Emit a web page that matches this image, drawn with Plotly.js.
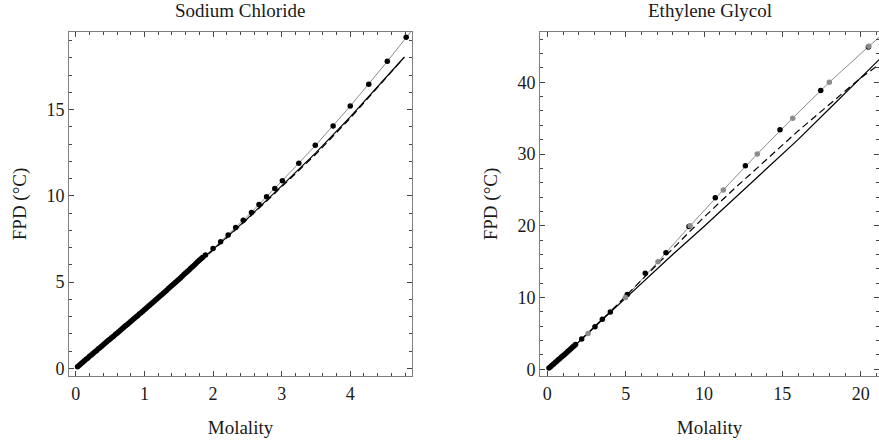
<!DOCTYPE html>
<html>
<head>
<meta charset="utf-8">
<script src="https://cdn.plot.ly/plotly-3.0.1.min.js"></script>
<style>html,body{margin:0;padding:0;background:#fff;}#chart{width:879px;height:447px;}</style>
</head>
<body>
<div id="chart"></div>
<script>
// ---------- Sodium Chloride ----------
const naclDotX = [0.025,0.050,0.075,0.100,0.125,0.150,0.175,0.200,0.225,0.250,0.275,0.300,0.325,0.350,0.375,0.400,
  0.425,0.450,0.475,0.500,0.525,0.550,0.575,0.600,0.625,0.650,0.675,0.700,0.725,0.750,0.775,0.800,
  0.825,0.850,0.875,0.900,0.925,0.950,0.975,1.000,1.025,1.050,1.075,1.100,1.125,1.150,1.175,1.200,
  1.225,1.250,1.275,1.300,1.325,1.350,1.375,1.400,1.425,1.450,1.475,1.500,1.525,1.550,1.575,1.600,
  1.625,1.650,1.675,1.700,1.725,1.750,1.775,1.800,1.825,1.850,
  1.89,2.00,2.11,2.22,2.33,2.44,2.56,2.67,2.78,2.90,3.01,3.25,3.49,3.75,4.00,4.27,4.54,4.815];
const naclDotY = [0.09,0.17,0.26,0.35,0.43,0.52,0.60,0.69,0.77,0.86,0.94,1.02,1.11,1.19,1.28,1.36,
  1.45,1.53,1.62,1.70,1.78,1.86,1.95,2.03,2.12,2.20,2.29,2.37,2.46,2.54,2.63,2.71,
  2.80,2.88,2.97,3.05,3.14,3.22,3.31,3.39,3.48,3.56,3.65,3.74,3.82,3.91,4.00,4.09,
  4.17,4.26,4.35,4.44,4.53,4.62,4.71,4.80,4.88,4.97,5.06,5.15,5.24,5.33,5.43,5.52,
  5.61,5.70,5.80,5.89,5.98,6.07,6.17,6.26,6.35,6.44,
  6.57,6.94,7.34,7.73,8.16,8.58,9.03,9.49,9.94,10.42,10.88,11.89,12.93,14.05,15.21,16.47,17.80,19.20];
const naclFitX = [0,0.5,1.0,1.5,2.0,2.5,3.0,3.5,4.0,4.5,4.88];
const naclFitY = [0,1.70,3.39,5.15,6.94,8.81,10.84,12.95,15.20,17.60,19.50];
const naclSolidX = [0,0.5,1.0,1.5,2.0,2.5,3.0,3.5,4.0,4.5,4.79];
const naclSolidY = [0,1.70,3.39,5.13,6.88,8.68,10.58,12.50,14.58,16.78,18.05];
const naclDashX = [0,0.5,1.0,1.5,2.0,2.5,3.0,3.5,4.0,4.5,4.78];
const naclDashY = [0,1.70,3.38,5.11,6.85,8.64,10.52,12.42,14.50,16.72,18.00];

// ---------- Ethylene Glycol ----------
const egBlackX = [0.10,0.20,0.30,0.40,0.50,0.60,0.70,0.80,0.90,1.00,1.10,1.20,1.30,1.40,1.50,1.60,1.70,1.80,
  2.19,3.04,3.51,4.02,5.10,6.25,7.57,9.04,10.72,12.64,14.85,17.45,20.49];
const egBlackY = [0.19,0.37,0.56,0.75,0.94,1.13,1.32,1.51,1.70,1.89,2.08,2.28,2.47,2.67,2.87,3.07,3.26,3.46,
  4.23,5.94,6.97,7.99,10.41,13.39,16.26,19.89,23.89,28.35,33.38,38.86,44.90];
const egGreyX = [2.60,4.98,7.06,9.11,11.23,13.40,15.66,18.00,20.52];
const egGreyY = [5,10,15,20,25,30,35,40,45];
const egFitX = [0,1.0,1.8,2.6,4.0,4.98,7.06,9.11,11.23,13.40,15.66,18.00,20.52,21.2];
const egFitY = [0,1.89,3.46,5.0,7.95,10,15,20,25,30,35,40,45,46.3];
const egSolidX = [0,2,4,6,8,10,12,14,16,18,20,21.2];
const egSolidY = [0,3.80,7.90,12.0,16.0,19.9,23.9,27.9,32.0,36.3,40.7,43.2];
const egDashX = [0,2,4,6,8,10,12,14,16,18,20,21.2];
const egDashY = [0,3.85,8.0,12.4,16.9,21.2,25.3,29.3,33.2,36.9,40.6,42.5];

const titles = ["Sodium Chloride", "Ethylene Glycol"];
const xTitle = "Molality";
const yTitle = "FPD (°C)";

const FONT = "'Liberation Serif', 'Times New Roman', serif";
const grey = "#8c8c8c";
const TXT = "#1a1a1a";

function line(x, y, xa, ya, color, width, dash) {
  return {x, y, xaxis: xa, yaxis: ya, type: "scatter", mode: "lines",
    line: {color, width, dash: dash || "solid"}, hoverinfo: "skip", showlegend: false};
}
function dots(x, y, xa, ya, color) {
  return {x, y, xaxis: xa, yaxis: ya, type: "scatter", mode: "markers",
    marker: {color, size: 5.5, line: {width: 0}}, hoverinfo: "skip", showlegend: false};
}

const data = [
  line(naclFitX, naclFitY, "x", "y", grey, 1),
  line(naclDashX, naclDashY, "x", "y", "#000", 1.2, "7px,4px"),
  line(naclSolidX, naclSolidY, "x", "y", "#000", 1.2),
  dots(naclDotX, naclDotY, "x", "y", "#000"),
  line(egFitX, egFitY, "x2", "y2", grey, 1),
  line(egDashX, egDashY, "x2", "y2", "#000", 1.2, "7px,4px"),
  line(egSolidX, egSolidY, "x2", "y2", "#000", 1.2),
  dots(egBlackX, egBlackY, "x2", "y2", "#000"),
  dots(egGreyX, egGreyY, "x2", "y2", grey)
];

function axis(extra) {
  return Object.assign({
    showgrid: false, zeroline: false, showline: true, linecolor: "#808080", linewidth: 1,
    mirror: "allticks", ticks: "inside", ticklen: 5, tickcolor: "#444", tickwidth: 1,
    tickfont: {family: FONT, size: 18, color: TXT},
    fixedrange: true
  }, extra);
}
const titleFont = {family: FONT, size: 19, color: TXT};

const W = 879, H = 447;
const yDom = [(H - 376) / H, (H - 32) / H];

const layout = {
  width: W, height: H,
  margin: {l: 0, r: 0, t: 0, b: 0},
  paper_bgcolor: "#fff", plot_bgcolor: "#fff",
  font: {family: FONT, color: TXT},
  showlegend: false,
  xaxis: axis({domain: [69 / W, 412 / W], anchor: "y", range: [-0.1, 4.9], dtick: 1, tick0: 0,
    ticklabelstandoff: 1,
    minor: {dtick: 0.2, tick0: 0, ticklen: 3, ticks: "inside", tickcolor: "#444"},
    title: {text: xTitle, font: titleFont, standoff: 18}}),
  yaxis: axis({domain: yDom, anchor: "x", range: [-0.45, 19.5], dtick: 5, tick0: 0,
    ticklabelstandoff: 0,
    minor: {dtick: 1, tick0: 0, ticklen: 3, ticks: "inside", tickcolor: "#444"},
    title: {text: yTitle, font: titleFont, standoff: 14}}),
  xaxis2: axis({domain: [540 / W, 1], anchor: "y2", range: [-0.47, 21.17], dtick: 5, tick0: 0,
    ticklabelstandoff: 1,
    minor: {dtick: 1, tick0: 0, ticklen: 3, ticks: "inside", tickcolor: "#444"},
    title: {text: xTitle, font: titleFont, standoff: 18}}),
  yaxis2: axis({domain: yDom, anchor: "x2", range: [-0.93, 47.0], dtick: 10, tick0: 0,
    ticklabelstandoff: 0,
    minor: {dtick: 2, tick0: 0, ticklen: 3, ticks: "inside", tickcolor: "#444"},
    title: {text: yTitle, font: titleFont, standoff: 14}}),
  annotations: [
    {text: titles[0], xref: "paper", yref: "paper", x: 240.5 / W, y: (H - 10) / H,
      xanchor: "center", yanchor: "middle", showarrow: false, font: titleFont},
    {text: titles[1], xref: "paper", yref: "paper", x: 710 / W, y: (H - 10) / H,
      xanchor: "center", yanchor: "middle", showarrow: false, font: titleFont}
  ]
};

Plotly.newPlot("chart", data, layout, {staticPlot: true, displayModeBar: false});
</script>
</body>
</html>
